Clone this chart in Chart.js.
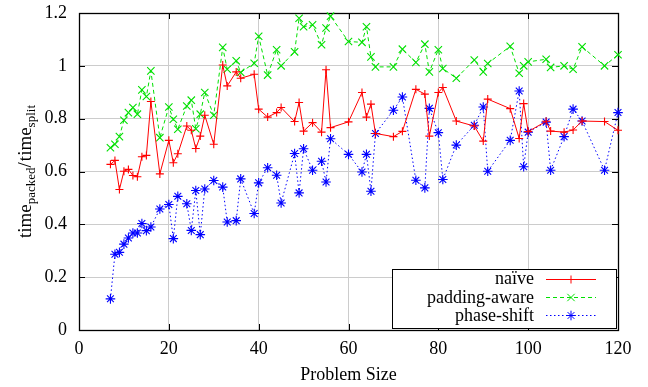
<!DOCTYPE html>
<html>
<head>
<meta charset="utf-8">
<script src="https://cdn.jsdelivr.net/npm/chart.js@4/dist/chart.umd.min.js"></script>
<style>
  html, body { margin: 0; padding: 0; background: #fff; }
  #wrap { width: 648px; height: 387px; }
</style>
</head>
<body>
<div id="wrap"><canvas id="c" width="648" height="387"></canvas></div>
<script>
const problemSizes = [7,8,9,10,11,12,13,14,15,16,18,20,21,22,24,25,26,27,28,30,32,33,35,36,39,40,42,44,45,48,49,50,52,54,55,56,60,63,64,65,66,70,72,75,77,78,80,81,84,88,90,91,96,98,99,100,104,105,108,110,112,117,120];

const naive = [0.627,0.642,0.532,0.601,0.608,0.585,0.580,0.656,0.661,0.865,
  0.591,0.718,0.633,0.667,0.772,0.756,0.687,0.734,0.813,0.703,
  1.003,0.924,0.977,0.953,0.968,0.836,0.806,0.823,0.842,0.789,
  0.861,0.753,0.785,0.749,0.985,0.766,0.788,0.899,0.806,0.855,
  0.744,0.732,0.752,0.911,0.893,0.734,0.899,0.918,0.791,0.772,
  0.715,0.874,0.838,0.725,0.857,0.751,0.790,0.753,0.749,0.757,
  0.791,0.789,0.756];

const paddingAware = [0.690,0.703,0.732,0.794,0.823,0.842,0.817,0.909,0.884,0.981,
  0.728,0.844,0.798,0.760,0.848,0.870,0.762,0.817,0.899,0.813,
  1.070,0.987,1.019,0.975,1.010,1.112,0.965,1.061,1.000,1.053,
  1.180,1.148,1.155,1.080,1.143,1.188,1.092,1.089,1.148,1.034,
  0.996,0.996,1.063,1.013,1.082,0.977,1.061,0.990,0.953,1.022,
  0.977,1.009,1.074,0.972,1.000,1.015,1.025,0.994,1.000,0.987,
  1.072,1.000,1.042];

const phaseShift = [0.118,0.287,0.294,0.325,0.348,0.367,0.367,0.403,0.376,0.390,
  0.458,0.475,0.346,0.506,0.478,0.377,0.528,0.361,0.534,0.566,
  0.541,0.409,0.414,0.572,0.441,0.557,0.614,0.586,0.481,0.668,
  0.519,0.686,0.605,0.639,0.560,0.724,0.665,0.598,0.665,0.525,
  0.744,0.832,0.882,0.567,0.538,0.839,0.747,0.570,0.700,0.775,
  0.844,0.601,0.718,0.905,0.618,0.749,0.787,0.605,0.732,0.836,
  0.791,0.605,0.823];

const seriesNames = ['naïve', 'padding-aware', 'phase-shift'];
const xTickLabels = ['0','20','40','60','80','100','120'];
const yTickLabels = ['0','0.2','0.4','0.6','0.8','1','1.2'];
const xTitle = 'Problem Size';
const yTitleParts = [['time', false], ['packed', true], ['/', false], ['time', false], ['split', true]];

const FONT = '"Liberation Serif", "Times New Roman", serif';
const RED = '#ff0000', GREEN = '#00e000', BLUE = '#0000ff';

function pts(ys) { return problemSizes.map((x, i) => ({x: x, y: ys[i]})); }

const styles = [
  {color: RED, dash: [], point: 'cross', r: 4},
  {color: GREEN, dash: [4, 3], point: 'crossRot', r: 5.2},
  {color: BLUE, dash: [1.5, 2.5], point: 'star', r: 4.8}
];

const datasets = [naive, paddingAware, phaseShift].map((ys, i) => ({
  label: seriesNames[i],
  data: pts(ys),
  borderColor: styles[i].color,
  backgroundColor: styles[i].color,
  borderWidth: 1,
  borderDash: styles[i].dash,
  pointStyle: styles[i].point,
  pointRadius: styles[i].r,
  pointBorderWidth: 1.1,
  pointBorderColor: styles[i].color,
  tension: 0,
  clip: false
}));

const framePlugin = {
  id: 'frame',
  beforeDatasetsDraw(chart) {
    const {ctx, chartArea: a, scales: {x, y}} = chart;
    ctx.save();
    ctx.strokeStyle = '#000';
    ctx.lineWidth = 1;
    ctx.beginPath();
    const tl = 6;
    xTickLabels.forEach(t => {
      const px = Math.round(x.getPixelForValue(+t)) + 0.5;
      ctx.moveTo(px, a.bottom); ctx.lineTo(px, a.bottom - tl);
      ctx.moveTo(px, a.top); ctx.lineTo(px, a.top + tl);
    });
    yTickLabels.forEach(t => {
      const py = Math.round(y.getPixelForValue(+t)) + 0.5;
      ctx.moveTo(a.left, py); ctx.lineTo(a.left + tl, py);
      ctx.moveTo(a.right, py); ctx.lineTo(a.right - tl, py);
    });
    ctx.stroke();
    ctx.lineWidth = 1.3;
    ctx.strokeRect(Math.round(a.left) + 0.5, Math.round(a.top) + 0.5,
                   Math.round(a.right - a.left), Math.round(a.bottom - a.top));
    ctx.restore();
  },
  afterDatasetsDraw(chart) {
    const {ctx, chartArea: a} = chart;
    // y-axis title with subscripts
    ctx.save();
    ctx.fillStyle = '#000';
    const mainFont = '19px ' + FONT, subFont = '13px ' + FONT;
    let total = 0;
    const widths = yTitleParts.map(([t, sub]) => {
      ctx.font = sub ? subFont : mainFont;
      const w = ctx.measureText(t).width;
      total += w + (t === '/' ? 1 : 0);
      return w;
    });
    ctx.translate(31, (a.top + a.bottom) / 2);
    ctx.rotate(-Math.PI / 2);
    ctx.textBaseline = 'alphabetic';
    ctx.textAlign = 'left';
    let cx = -total / 2;
    yTitleParts.forEach(([t, sub], i) => {
      ctx.font = sub ? subFont : mainFont;
      ctx.fillText(t, cx, sub ? 4 : 0);
      cx += widths[i] + (t === '/' ? 1 : 0);
    });
    ctx.restore();

    // legend box
    ctx.save();
    const bx = 392, by = 269, bw = 224, bh = 59;
    ctx.fillStyle = '#fff';
    ctx.fillRect(bx, by, bw, bh);
    ctx.strokeStyle = '#000';
    ctx.lineWidth = 1;
    ctx.strokeRect(bx + 0.5, by + 0.5, bw, bh);
    ctx.font = '18px ' + FONT;
    ctx.textAlign = 'right';
    ctx.textBaseline = 'middle';
    seriesNames.forEach((name, i) => {
      const cy = by + 9.5 + i * 18.3;
      ctx.fillStyle = '#000';
      ctx.fillText(name, 534, cy + 1);
      ctx.strokeStyle = styles[i].color;
      ctx.lineWidth = 1;
      ctx.setLineDash(styles[i].dash);
      ctx.beginPath();
      ctx.moveTo(546, Math.round(cy) + 0.5);
      ctx.lineTo(596, Math.round(cy) + 0.5);
      ctx.stroke();
      ctx.setLineDash([]);
      ctx.fillStyle = styles[i].color;
      Chart.helpers.drawPoint(ctx, {pointStyle: styles[i].point, radius: styles[i].r, borderWidth: 1.1, rotation: 0}, 571, Math.round(cy) + 0.5);
    });
    ctx.restore();
  }
};

new Chart(document.getElementById('c'), {
  type: 'line',
  data: {datasets: datasets},
  options: {
    responsive: false,
    animation: false,
    devicePixelRatio: 1,
    layout: {padding: {left: 0, right: 30, top: 13, bottom: 0}},
    plugins: {legend: {display: false}, tooltip: {enabled: false}},
    scales: {
      x: {
        type: 'linear', min: 0, max: 120,
        afterFit(s) { s.height = 57; s.paddingLeft = 0; s.paddingRight = 0; },
        afterBuildTicks(s) { s.ticks = xTickLabels.map(v => ({value: +v})); },
        grid: {color: '#cccccc', lineWidth: 1, drawTicks: false, drawOnChartArea: true},
        border: {display: false},
        ticks: {
          color: '#000', padding: 8, maxRotation: 0, autoSkip: false,
          font: {family: FONT, size: 18},
          callback: (v) => { const i = xTickLabels.indexOf(String(v)); return i >= 0 ? xTickLabels[i] : ''; }
        },
        title: {display: true, text: xTitle, color: '#000', font: {family: FONT, size: 18}, padding: {top: 0, bottom: 1}}
      },
      y: {
        type: 'linear', min: 0, max: 1.2,
        afterFit(s) { s.width = 79; s.paddingTop = 0; s.paddingBottom = 0; },
        afterBuildTicks(s) { s.ticks = yTickLabels.map(v => ({value: +v})); },
        grid: {color: '#cccccc', lineWidth: 1, drawTicks: false},
        border: {display: false},
        ticks: {
          color: '#000', padding: 12, autoSkip: false,
          font: {family: FONT, size: 18},
          callback: (v) => { const s = String(Math.round(v * 10) / 10); const i = yTickLabels.indexOf(s); return i >= 0 ? yTickLabels[i] : ''; }
        }
      }
    }
  },
  plugins: [framePlugin]
});
</script>
</body>
</html>
